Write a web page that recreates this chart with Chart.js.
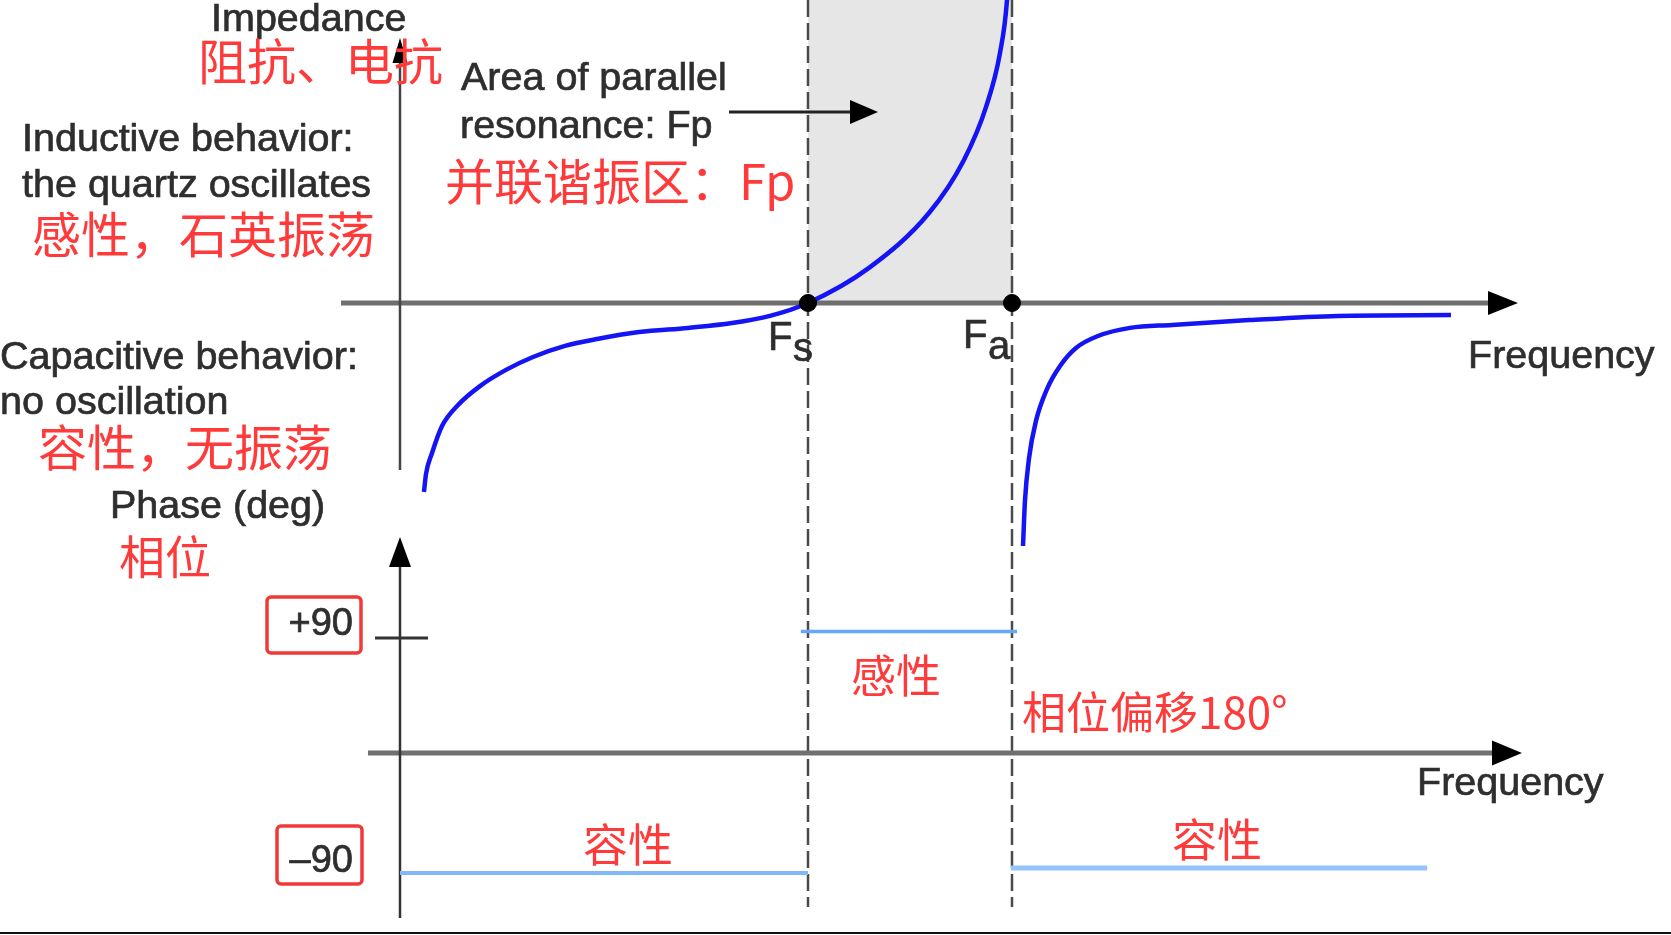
<!DOCTYPE html>
<html>
<head>
<meta charset="utf-8">
<script src="https://cdn.jsdelivr.net/npm/chart.js@4/dist/chart.umd.min.js"></script>
<style>
  html, body { margin: 0; padding: 0; background: #ffffff; }
  #wrap { position: relative; width: 1671px; height: 935px; }
  canvas { display: block; }
</style>
</head>
<body>
<div id="wrap"><canvas id="c" width="1671" height="935"></canvas></div>
<script>
// ---------------- DATA (arbitrary units) ----------------
// Frequency axis: Fs = 4, Fa = 6 (arbitrary units), origin at the impedance axis
const FS = 4.0;
const FA = 6.0;

// Reactance curve, branch below/through Fs up to the parallel resonance
const freqBranch1 = [0.235, 0.255, 0.314, 0.412, 0.569, 0.784, 1.039, 1.304, 1.618, 1.931, 2.343, 2.824, 3.255, 3.627, 4.0, 4.598, 5.186, 5.529, 5.745, 5.882, 5.951, 5.965];
const reactBranch1 = [-6.3, -5.7, -5.0, -4.1, -3.4, -2.77, -2.23, -1.8, -1.43, -1.2, -0.97, -0.83, -0.67, -0.43, 0.0, 1.17, 3.0, 4.77, 6.53, 8.33, 10.1, 11.0];

// Reactance curve, branch above Fa
const freqBranch2 = [6.108, 6.127, 6.167, 6.235, 6.343, 6.471, 6.627, 6.843, 7.157, 7.569, 8.324, 9.196, 10.304];
const reactBranch2 = [-8.1, -6.6, -5.17, -3.93, -2.87, -2.1, -1.5, -1.1, -0.83, -0.73, -0.57, -0.43, -0.40];

// Phase (deg) step segments
const phaseLowFreq = [0.0, 4.0];
const phaseLowDeg = [-94, -94];
const phaseMidFreq = [3.93, 6.05];
const phaseMidDeg = [95, 95];
const phaseHighFreq = [5.99, 10.07];
const phaseHighDeg = [-90, -90];

// Resonance markers
const markerFreq = [FS, FA];
const markerReact = [0, 0];

// Tick label on phase axis
const phaseTickValues = [90, -90];
const phaseTickLabels = ['+90', '–90'];

// ---------------- helpers ----------------
function pts(xs, ys) { return xs.map((x, i) => ({ x: x, y: ys[i] })); }

// scale ranges (arbitrary units) so the diagram fills the canvas
const RANGE = {
  fMin: -3.92157, fMax: 12.4608,
  zMin: -21.0667, zMax: 10.1,
  pMin: -142.43, pMax: 589.3
};

// axis extents in data units
const AXES = {
  topX: { from: -0.578, to: 10.961 },
  topY: { from: -5.567, to: 8.833 },
  botX: { from: -0.314, to: 11.0 },
  botY: { from: -129.1, to: 169.0 },
  tick90: { from: -0.245, to: 0.275, at: 90 },
  dashEndPhase: -120.5
};

const RED = '#ff3a3a';
const GREY_TXT = '#2e2e2e';
const LATIN = '"Liberation Sans", Arial, sans-serif';
const CJK = '"Noto Sans CJK SC", sans-serif';

function latinText(ctx, s, x, y) {
  ctx.fillText(s, x, y);
  ctx.strokeText(s, x, y);
}

const decoPlugin = {
  id: 'deco',
  beforeDatasetsDraw(chart) {
    const ctx = chart.ctx;
    const sx = chart.scales.x, sz = chart.scales.yZ, sp = chart.scales.yP;
    const xFs = sx.getPixelForValue(FS), xFa = sx.getPixelForValue(FA);
    const yZ0 = sz.getPixelForValue(0);
    const yTop = sz.getPixelForValue(RANGE.zMax);
    ctx.save();
    // shaded parallel resonance area
    ctx.fillStyle = '#e6e6e6';
    ctx.fillRect(xFs, yTop, xFa - xFs, yZ0 - yTop);

    // dashed lines
    ctx.strokeStyle = '#4a4a4a';
    ctx.lineWidth = 2.5;
    ctx.setLineDash([17, 6]);
    const yDashEnd = sp.getPixelForValue(AXES.dashEndPhase);
    [xFs, xFa].forEach(x => {
      ctx.beginPath(); ctx.moveTo(x, yTop); ctx.lineTo(x, yDashEnd); ctx.stroke();
    });
    ctx.setLineDash([]);

    // top frequency axis
    const x0 = sx.getPixelForValue(0);
    ctx.strokeStyle = '#6e6e6e';
    ctx.lineWidth = 5;
    let a = sx.getPixelForValue(AXES.topX.from), b = sx.getPixelForValue(AXES.topX.to);
    ctx.beginPath(); ctx.moveTo(a, yZ0); ctx.lineTo(b - 20, yZ0); ctx.stroke();
    arrowRight(ctx, b, yZ0, 30, 12);

    // impedance axis
    ctx.strokeStyle = '#444';
    ctx.lineWidth = 2.5;
    let t = sz.getPixelForValue(AXES.topY.to), bt = sz.getPixelForValue(AXES.topY.from);
    ctx.beginPath(); ctx.moveTo(x0, bt); ctx.lineTo(x0, t + 15); ctx.stroke();
    arrowUp(ctx, x0, t, 25, 7.5);

    // phase frequency axis
    const yP0 = sp.getPixelForValue(0);
    ctx.strokeStyle = '#707070';
    ctx.lineWidth = 5;
    a = sx.getPixelForValue(AXES.botX.from); b = sx.getPixelForValue(AXES.botX.to);
    ctx.beginPath(); ctx.moveTo(a, yP0); ctx.lineTo(b - 20, yP0); ctx.stroke();
    arrowRight(ctx, b, yP0, 30, 12.5);

    // phase axis
    ctx.strokeStyle = '#333';
    ctx.lineWidth = 2.5;
    t = sp.getPixelForValue(AXES.botY.to); bt = sp.getPixelForValue(AXES.botY.from);
    ctx.beginPath(); ctx.moveTo(x0, bt); ctx.lineTo(x0, t + 15); ctx.stroke();
    arrowUp(ctx, x0, t, 30, 11);

    // +90 tick
    ctx.strokeStyle = '#333';
    ctx.lineWidth = 3;
    const yt = sp.getPixelForValue(AXES.tick90.at);
    ctx.beginPath();
    ctx.moveTo(sx.getPixelForValue(AXES.tick90.from), yt);
    ctx.lineTo(sx.getPixelForValue(AXES.tick90.to), yt);
    ctx.stroke();
    ctx.restore();
  },
  afterDraw(chart) {
    const ctx = chart.ctx;
    ctx.save();
    // English labels
    ctx.fillStyle = GREY_TXT;
    ctx.strokeStyle = GREY_TXT;
    ctx.lineWidth = 0.7;
    ctx.textBaseline = 'alphabetic';
    ctx.font = '39.5px ' + LATIN;
    latinText(ctx, 'Impedance', 211, 31);
    latinText(ctx, 'Area of parallel', 461, 90);
    latinText(ctx, 'resonance: Fp', 460, 138);
    latinText(ctx, 'Inductive behavior:', 22, 151);
    latinText(ctx, 'the quartz oscillates', 22, 197);
    latinText(ctx, 'Capacitive behavior:', 0, 369);
    latinText(ctx, 'no oscillation', 0, 414);
    latinText(ctx, 'Phase (deg)', 110, 518);
    latinText(ctx, 'Frequency', 1468, 368);
    latinText(ctx, 'Frequency', 1417, 795);
    // Fs / Fa
    ctx.font = '40px ' + LATIN;
    latinText(ctx, 'F', 768, 350);
    latinText(ctx, 's', 793, 361);
    latinText(ctx, 'F', 963, 348);
    latinText(ctx, 'a', 988, 359);

    // arrow pointing into area
    ctx.strokeStyle = '#222';
    ctx.lineWidth = 3;
    ctx.beginPath(); ctx.moveTo(729, 112); ctx.lineTo(855, 112); ctx.stroke();
    arrowRight(ctx, 878, 112, 28, 12);

    // phase tick labels in red boxes
    ctx.font = '38px ' + LATIN;
    ctx.textAlign = 'right';
    const boxes = [
      { x: 267, y: 597, w: 94, h: 56, tx: 353, ty: 635 },
      { x: 277, y: 826, w: 85, h: 58, tx: 353, ty: 872 }
    ];
    phaseTickValues.forEach((v, i) => {
      const bx = boxes[i];
      ctx.fillStyle = GREY_TXT;
      ctx.strokeStyle = GREY_TXT;
      ctx.lineWidth = 0.7;
      latinText(ctx, phaseTickLabels[i], bx.tx, bx.ty);
      ctx.strokeStyle = '#f03a3a';
      ctx.lineWidth = 3.5;
      ctx.beginPath();
      ctx.roundRect(bx.x, bx.y, bx.w, bx.h, 4);
      ctx.stroke();
    });
    ctx.textAlign = 'left';

    // Chinese annotations
    ctx.fillStyle = RED;
    ctx.textBaseline = 'middle';
    ctx.font = '49px ' + CJK;
    ctx.fillText('阻抗、电抗', 198, 61);
    ctx.fillText('并联谐振区：Fp', 445, 181);
    ctx.fillText('感性，石英振荡', 32, 234);
    ctx.fillText('容性，无振荡', 38, 447);
    ctx.font = '46px ' + CJK;
    ctx.fillText('相位', 119, 557);
    ctx.font = '45px ' + CJK;
    ctx.fillText('感性', 851, 676);
    ctx.fillText('容性', 583, 845);
    ctx.fillText('容性', 1172, 840);
    ctx.font = '44px ' + CJK;
    ctx.fillText('相位偏移180°', 1022, 712);

    // bottom frame line
    ctx.strokeStyle = '#111';
    ctx.lineWidth = 2;
    ctx.beginPath(); ctx.moveTo(0, 933); ctx.lineTo(1671, 933); ctx.stroke();
    ctx.restore();
  }
};

function arrowRight(ctx, tipX, y, len, half) {
  ctx.save();
  ctx.fillStyle = '#000';
  ctx.beginPath();
  ctx.moveTo(tipX, y);
  ctx.lineTo(tipX - len, y - half);
  ctx.lineTo(tipX - len, y + half);
  ctx.closePath();
  ctx.fill();
  ctx.restore();
}
function arrowUp(ctx, x, tipY, len, half) {
  ctx.save();
  ctx.fillStyle = '#000';
  ctx.beginPath();
  ctx.moveTo(x, tipY);
  ctx.lineTo(x - half, tipY + len);
  ctx.lineTo(x + half, tipY + len);
  ctx.closePath();
  ctx.fill();
  ctx.restore();
}

const phaseStyle = { showLine: true, pointRadius: 0, borderColor: '#80b8fb', borderWidth: 4, yAxisID: 'yP', tension: 0 };

new Chart(document.getElementById('c'), {
  type: 'scatter',
  data: {
    datasets: [
      { label: 'markers', data: pts(markerFreq, markerReact), yAxisID: 'yZ', pointRadius: 8.5, pointHoverRadius: 8.5,
        pointBackgroundColor: '#000', pointBorderColor: '#000', showLine: false },
      { label: 'X below Fa', data: pts(freqBranch1, reactBranch1), yAxisID: 'yZ', showLine: true, pointRadius: 0,
        borderColor: '#1414f5', borderWidth: 4.5, cubicInterpolationMode: 'monotone' },
      { label: 'X above Fa', data: pts(freqBranch2, reactBranch2), yAxisID: 'yZ', showLine: true, pointRadius: 0,
        borderColor: '#1414f5', borderWidth: 4.5, cubicInterpolationMode: 'monotone' },
      Object.assign({ label: 'phase low', data: pts(phaseLowFreq, phaseLowDeg) }, phaseStyle),
      Object.assign({ label: 'phase mid', data: pts(phaseMidFreq, phaseMidDeg) }, phaseStyle, { borderColor: '#66a8f8', borderWidth: 3.5 }),
      Object.assign({ label: 'phase high', data: pts(phaseHighFreq, phaseHighDeg) }, phaseStyle, { borderWidth: 5, borderColor: '#94c4fc' })
    ]
  },
  options: {
    responsive: false,
    animation: false,
    devicePixelRatio: 1,
    layout: { padding: 0, autoPadding: false },
    plugins: { legend: { display: false }, tooltip: { enabled: false } },
    events: [],
    scales: {
      x: { type: 'linear', min: RANGE.fMin, max: RANGE.fMax, display: false },
      yZ: { type: 'linear', position: 'left', min: RANGE.zMin, max: RANGE.zMax, display: false },
      yP: { type: 'linear', position: 'left', min: RANGE.pMin, max: RANGE.pMax, display: false }
    }
  },
  plugins: [decoPlugin]
});
</script>
</body>
</html>
